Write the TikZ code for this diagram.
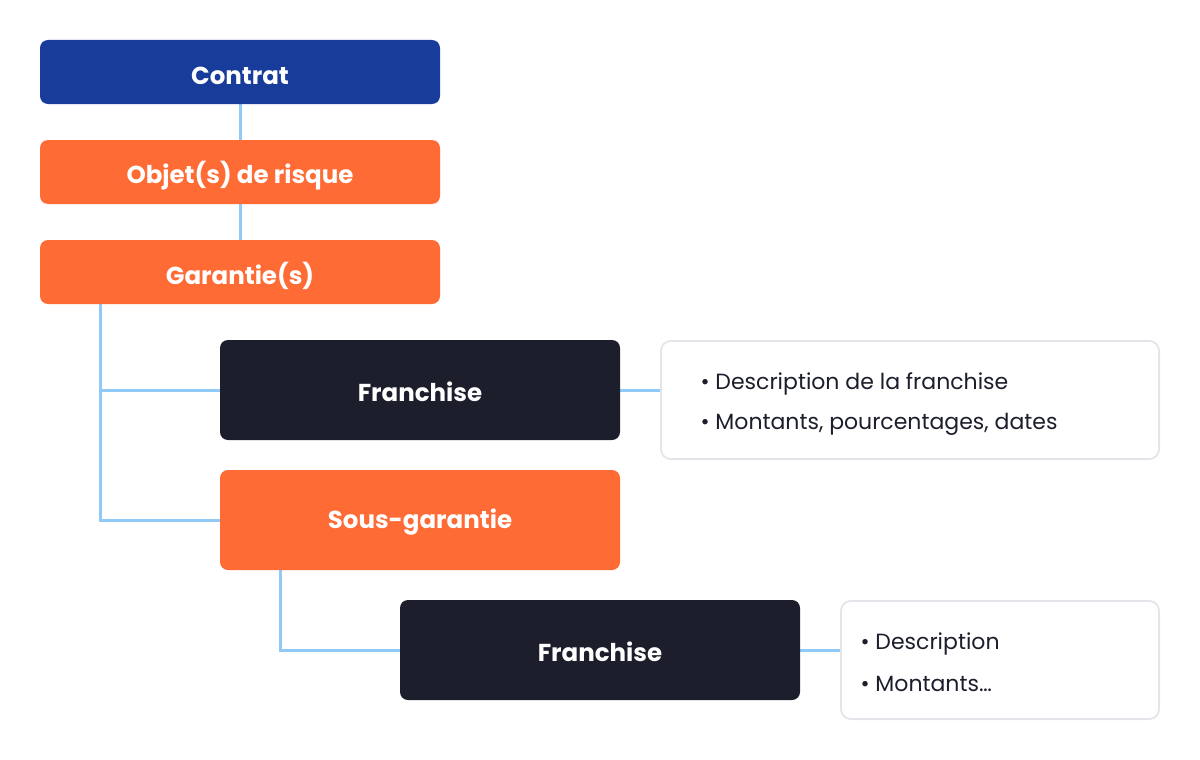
\documentclass[tikz,border=0pt]{standalone}
\usepackage{fontspec}
\setmainfont{Poppins}
\definecolor{cblue}{HTML}{173C99}
\definecolor{corange}{HTML}{FF6B35}
\definecolor{cdark}{HTML}{1C1E2B}
\definecolor{cline}{HTML}{90CAF9}
\definecolor{cgray}{HTML}{E3E5EA}
\begin{document}
\begin{tikzpicture}[x=1pt,y=-1pt,
  box/.style={rounded corners=8pt, inner sep=0pt},
  title/.style={text=white, font=\fontsize{24.5}{28}\selectfont\bfseries},
  info/.style={fill=white, draw=cgray, line width=1.8pt, rounded corners=10pt},
  infotext/.style={text=cdark, font=\fontsize{22}{26}\selectfont, anchor=west},
  conn/.style={draw=cline, line width=3pt}]
\useasboundingbox (0,0) rectangle (1200,760);
% connectors first
\coordinate (g1) at (100,304);
\coordinate (g2) at (100,390);
\coordinate (g3) at (100,520);
\coordinate (s1) at (280,570);
\coordinate (s2) at (280,650);
\draw[conn] (240,104) -- (240,140);
\draw[conn] (240,204) -- (240,240);
\draw[conn] (g1) -- (g3) -- (220,520);
\draw[conn] (g2) -- (220,390);
\draw[conn] (620,390) -- (660,390);
\draw[conn] (s1) -- (s2) -- (400,650);
\draw[conn] (800,650) -- (840,650);
% boxes
\fill[box, cblue] (40,40) rectangle (440,104);
\node[title] (contrat) at (240,76) {Contrat};
\fill[box, corange] (40,140) rectangle (440,204);
\node[title] (objet) at (240,176) {Objet(s) de risque};
\fill[box, corange] (40,240) rectangle (440,304);
\node[title] (garantie) at (240,276) {Garantie(s)};
\fill[box, cdark] (220,340) rectangle (620,440);
\node[title] (fr1) at (420,392) {Franchise};
\fill[box, corange] (220,470) rectangle (620,570);
\node[title] (sous) at (420,522) {Sous-garantie};
\fill[box, cdark] (400,600) rectangle (800,700);
\node[title] (fr2) at (600,652) {Franchise};
% info boxes
\path[info] (660.9,340.9) rectangle (1159.1,459.1);
\node[infotext] (i1a) at (697,384) {• Description de la franchise};
\node[infotext] (i1b) at (697,424) {• Montants, pourcentages, dates};
\path[info] (840.9,600.9) rectangle (1159.1,719.1);
\node[infotext] (i2a) at (857,644) {• Description};
\node[infotext] (i2b) at (857,684) {• Montants…};
\end{tikzpicture}
\end{document}
